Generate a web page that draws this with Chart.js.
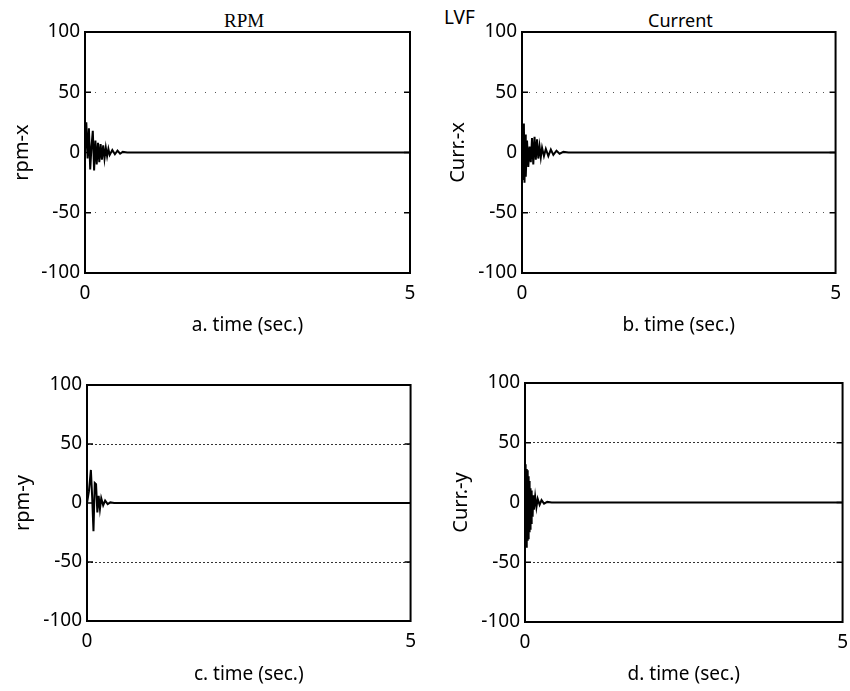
<!DOCTYPE html>
<html>
<head>
<meta charset="utf-8">
<script src="https://cdn.jsdelivr.net/npm/chart.js@4.4.1/dist/chart.umd.min.js"></script>
<style>
  html, body { margin: 0; padding: 0; background: #fff; overflow: hidden; }
  body { width: 850px; height: 691px; position: relative; font-family: 'Noto Sans', sans-serif; color: #000; }
  .panel { position: absolute; }
  .label { position: absolute; line-height: 1; white-space: nowrap; }
</style>
</head>
<body>

<div class="label" style="left:224px; top:11px; font-size:19px; font-family:'Liberation Serif', serif;">RPM</div>
<div class="label" style="left:444px; top:8px; font-size:19px;">LVF</div>
<div class="label" style="left:648px; top:11px; font-size:18px;">Current</div>

<div class="panel" style="left:0; top:0; width:425px; height:345px;"><canvas id="c1"></canvas></div>
<div class="panel" style="left:425px; top:0; width:425px; height:345px;"><canvas id="c2"></canvas></div>
<div class="panel" style="left:0; top:345px; width:425px; height:346px;"><canvas id="c3"></canvas></div>
<div class="panel" style="left:425px; top:345px; width:432px; height:346px;"><canvas id="c4"></canvas></div>

<script>
// ── Data ───────────────────────────────────────────

// a. rpm-x
const timeRpmX = [0, 0.02, 0.04, 0.06, 0.08, 0.10, 0.12, 0.14, 0.16, 0.18, 0.20, 0.22, 0.24, 0.26,
  0.28, 0.30, 0.32, 0.34, 0.36, 0.38, 0.42, 0.46, 0.50, 0.54, 0.58, 0.65, 5];
const rpmX = [0, 25, -5, 20, -14, 5, 18, -15, 10, -10, 8, -8, 7, -6,
  6, -5, 4, -3, 3, -2, 2, -1.5, 1.5, -1, 0.5, 0, 0];

// b. Curr.-x
const timeCurrX = [0, 0.01, 0.02, 0.03, 0.04, 0.05, 0.06, 0.08, 0.10, 0.12, 0.14, 0.16, 0.18, 0.20,
  0.22, 0.24, 0.26, 0.28, 0.30, 0.32, 0.35, 0.38, 0.42, 0.46, 0.50, 0.55, 0.60, 0.66, 0.74, 5];
const currX = [0, 20, -22, 24, -25, 15, -20, 10, -12, 5, -8, 12, -10, 13,
  -6, 11, -5, 5, -4, 4, -3, 3, -3, 2.5, -2, 1.5, -1, 0.5, 0, 0];

// c. rpm-y
const timeRpmY = [0, 0.03, 0.06, 0.08, 0.10, 0.12, 0.14, 0.16, 0.18, 0.20, 0.22, 0.25, 0.28, 0.32, 0.36, 0.42, 5];
const rpmY = [0, 10, 28, 5, -24, 17, 16, -8, 6, -5, 4, -2, 2, -1, 0.5, 0, 0];

// d. Curr.-y
const timeCurrY = [0, 0.005, 0.01, 0.015, 0.02, 0.025, 0.03, 0.035, 0.04, 0.045, 0.05, 0.055, 0.06,
  0.065, 0.07, 0.075, 0.08, 0.085, 0.09, 0.095, 0.10, 0.11, 0.12, 0.13, 0.14, 0.16, 0.18, 0.20,
  0.23, 0.26, 0.30, 0.35, 0.42, 5];
const currY = [0, 32, -30, 30, -37, 28, -35, 27, -32, 25, -30, 22, -28,
  18, -25, 15, -22, 12, -20, 10, -18, 8, -12, 6, -6, 5, -4, 3,
  -2, 2, -1, 0.5, 0, 0];

const yTicks = [-100, -50, 0, 50, 100];
const xTicks = [0, 5];

// ── Helpers ────────────────────────────────────────

const FONT = 'Noto Sans';

// box round the plot area + small inward tick marks
const framePlugin = {
  id: 'frame',
  afterDraw(chart) {
    const { ctx, chartArea: a, scales } = chart;
    ctx.save();
    ctx.strokeStyle = '#000';
    ctx.lineWidth = 2;
    ctx.strokeRect(a.left, a.top, a.right - a.left, a.bottom - a.top);
    ctx.lineWidth = 1.5;
    [-50, 0, 50].forEach(v => {
      const y = scales.y.getPixelForValue(v);
      ctx.beginPath();
      ctx.moveTo(a.left, y); ctx.lineTo(a.left + 6, y);
      ctx.moveTo(a.right, y); ctx.lineTo(a.right - 6, y);
      ctx.stroke();
    });
    ctx.restore();
  }
};

function makePanel(id, times, values, opts) {
  const points = times.map((t, i) => ({ x: t, y: values[i] }));
  return new Chart(document.getElementById(id), {
    type: 'line',
    data: {
      datasets: [{
        data: points,
        borderColor: '#000',
        borderWidth: 2,
        pointRadius: 0,
        tension: 0,
      }]
    },
    options: {
      responsive: true,
      maintainAspectRatio: false,
      animation: false,
      layout: { padding: opts.padding },
      plugins: { legend: { display: false }, tooltip: { enabled: false } },
      scales: {
        x: {
          type: 'linear',
          min: xTicks[0],
          max: xTicks[xTicks.length - 1],
          afterBuildTicks: s => { s.ticks = xTicks.map(v => ({ value: v })); },
          afterFit: s => { s.height = opts.xHeight; },
          grid: { display: false, drawTicks: false },
          border: { display: false },
          ticks: { color: '#000', padding: 9, font: { family: FONT, size: 19 } },
          title: {
            display: true,
            text: opts.xTitle,
            color: '#000',
            font: { family: FONT, size: 19 },
            padding: { top: 0, bottom: opts.xTitlePad }
          }
        },
        y: {
          min: yTicks[0],
          max: yTicks[yTicks.length - 1],
          afterBuildTicks: s => { s.ticks = yTicks.map(v => ({ value: v })); },
          afterFit: s => { s.width = opts.yWidth; },
          grid: {
            drawTicks: false,
            lineWidth: 1,
            color: c => Math.abs(c.tick.value) === 50 ? opts.gridColor : 'transparent'
          },
          border: { display: false, dash: opts.gridDash },
          ticks: { color: '#000', padding: 5, font: { family: FONT, size: 19 } },
          title: {
            display: true,
            text: opts.yTitle,
            color: '#000',
            font: { family: FONT, size: 20 },
            padding: { top: opts.yTitlePad, bottom: 0 }
          }
        }
      }
    },
    plugins: [framePlugin]
  });
}

makePanel('c1', timeRpmX, rpmX, {
  padding: { top: 32, right: 15, bottom: 0, left: 0 },
  xHeight: 72, yWidth: 85, yTitlePad: 10, xTitlePad: 8,
  xTitle: 'a. time (sec.)', yTitle: 'rpm-x',
  gridColor: '#555', gridDash: [1, 9]
});

makePanel('c2', timeCurrX, currX, {
  padding: { top: 32, right: 7, bottom: 0, left: 0 },
  xHeight: 72, yWidth: 97, yTitlePad: 21, xTitlePad: 8,
  xTitle: 'b. time (sec.)', yTitle: 'Curr.-x',
  gridColor: '#555', gridDash: [1, 6]
});

makePanel('c3', timeRpmY, rpmY, {
  padding: { top: 40, right: 12, bottom: 0, left: 0 },
  xHeight: 70, yWidth: 87, yTitlePad: 11, xTitlePad: 5,
  xTitle: 'c. time (sec.)', yTitle: 'rpm-y',
  gridColor: '#333', gridDash: [2, 2]
});

makePanel('c4', timeCurrY, currY, {
  padding: { top: 38, right: 10, bottom: 0, left: 0 },
  xHeight: 69, yWidth: 100, yTitlePad: 24, xTitlePad: 5,
  xTitle: 'd. time (sec.)', yTitle: 'Curr.-y',
  gridColor: '#333', gridDash: [2, 2]
});
</script>
</body>
</html>
